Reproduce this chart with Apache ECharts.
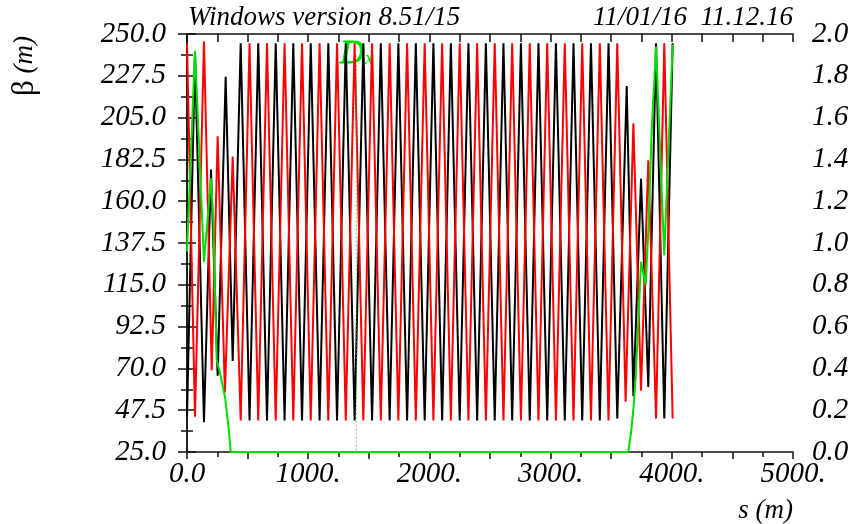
<!DOCTYPE html>
<html>
<head>
<meta charset="utf-8">
<script src="https://cdn.jsdelivr.net/npm/echarts@6/dist/echarts.min.js"></script>
<style>
html,body{margin:0;padding:0;background:#fff;}
#c{width:857px;height:524px;}
</style>
</head>
<body>
<div id="c"></div>
<script>
// ---- data ----
// horizontal beta function (black): positions s (m) and values (m)
const betxS = [0, 66, 140, 198, 253, 319, 377,
  443, 516, 588, 660, 732, 805, 877, 949, 1021, 1094, 1166, 1238, 1310, 1383, 1455, 1527, 1599, 1672, 1744, 1816, 1888, 1961,
  2033, 2105, 2177, 2250, 2322, 2394, 2466, 2539, 2611, 2683, 2755, 2828, 2900, 2972, 3044, 3117, 3189, 3261, 3333, 3406, 3478,
  3550, 3628, 3683, 3746, 3806, 3870, 3938, 4007];
const betxV = [44, 240, 41, 177, 66, 227, 74,
  245, 42, 245, 42, 245, 42, 245, 42, 245, 42, 245, 42, 245, 42, 245, 42, 245, 42, 245, 42, 245, 42,
  245, 42, 245, 42, 245, 42, 245, 42, 245, 42, 245, 42, 245, 42, 245, 42, 245, 42, 245, 42, 245,
  43, 222, 55, 172, 60, 245, 43, 245];
// vertical beta function (red)
const betyS = [0, 66, 140, 204, 253, 313, 377,
  443, 516, 588, 660, 732, 805, 877, 949, 1021, 1094, 1166, 1238, 1310, 1383, 1455, 1527, 1599, 1672, 1744, 1816, 1888, 1961,
  2033, 2105, 2177, 2250, 2322, 2394, 2466, 2539, 2611, 2683, 2755, 2828, 2900, 2972, 3044, 3117, 3189, 3261, 3333, 3406, 3478,
  3550, 3619, 3683, 3746, 3806, 3870, 3938, 4007];
const betyV = [245, 44, 246, 69, 195, 57, 184,
  42, 245, 42, 245, 42, 245, 42, 245, 42, 245, 42, 245, 42, 245, 42, 245, 42, 245, 42, 245, 42, 245,
  42, 245, 42, 245, 42, 245, 42, 245, 42, 245, 42, 245, 42, 245, 42, 245, 42, 245, 42, 245, 42,
  245, 52, 202, 58, 182, 43, 245, 43];
// horizontal dispersion Dx (green, right axis)
const dxS = [0, 66, 140, 198, 217, 245, 272, 314, 341, 361, 3641, 3665, 3687, 3704, 3724, 3746, 3785, 3806, 3834, 3870, 3938, 4007];
const dxV = [0.96, 1.92, 0.91, 1.31, 1.11, 0.44, 0.38, 0.26, 0.13, 0.0, 0.0, 0.10, 0.23, 0.38, 0.63, 0.91, 0.80, 1.06, 1.54, 1.94, 0.94, 1.95];
// Dx label marker position
const dxMarkS = 1400;
const dxMarkTop = 1.87;
// axes
const sRange = [0, 5000];
const betaRange = [25, 250];
const dRange = [0, 2];
const titleLeft = 'Windows version 8.51/15';
const titleRight = '11/01/16  11.12.16';

// ---- chart ----
const FONT = "'Liberation Serif', 'DejaVu Serif', serif";
const pairs = (xs, ys) => xs.map((x, i) => [x, ys[i]]);
const lblStyle = {fontFamily: FONT, fontStyle: 'italic', fontSize: 29, color: '#000'};
const axLine = {show: true, lineStyle: {color: '#111', width: 1.5}};
const tickLine = {color: '#111', width: 1.5};
const GREEN = '#00dd00';

const chart = echarts.init(document.getElementById('c'), null, {renderer: 'canvas'});
chart.setOption({
  animation: false,
  backgroundColor: '#fff',
  grid: {left: 187, right: 64, top: 34, bottom: 72, containLabel: false},
  xAxis: [{
    type: 'value', position: 'bottom', min: sRange[0], max: sRange[1], interval: 500,
    axisLine: axLine,
    axisTick: {show: true, inside: false, length: 7, lineStyle: tickLine},
    minorTick: {show: true, splitNumber: 2, length: 5, lineStyle: tickLine},
    splitLine: {show: false},
    axisLabel: Object.assign({}, lblStyle, {margin: 8, interval: 0,
      formatter: v => v === 0 ? '0.0' : (v % 1000 === 0 ? v + '.' : '')})
  }, {
    type: 'value', position: 'top', min: sRange[0], max: sRange[1], interval: 250,
    axisLine: axLine,
    axisTick: {show: true, inside: true, length: 8, lineStyle: tickLine},
    axisLabel: {show: false}, splitLine: {show: false}
  }],
  yAxis: [{
    type: 'value', position: 'left', min: betaRange[0], max: betaRange[1], interval: 22.5,
    axisLine: axLine,
    axisTick: {show: true, inside: false, length: 9, lineStyle: tickLine},
    minorTick: {show: true, splitNumber: 2, length: 6, lineStyle: tickLine},
    splitLine: {show: false},
    axisLabel: Object.assign({}, lblStyle, {margin: 21, formatter: v => v.toFixed(1)})
  }, {
    type: 'value', position: 'right', min: dRange[0], max: dRange[1], interval: 0.2,
    axisLine: axLine,
    axisTick: {show: true, inside: false, length: 9, lineStyle: tickLine},
    minorTick: {show: true, splitNumber: 2, length: 6, lineStyle: tickLine},
    splitLine: {show: false},
    axisLabel: Object.assign({}, lblStyle, {margin: 19, formatter: v => v.toFixed(1)})
  }],
  series: [{
    name: 'betx', type: 'line', xAxisIndex: 0, yAxisIndex: 0, data: pairs(betxS, betxV),
    showSymbol: false, symbol: 'none', lineStyle: {color: '#000', width: 2}, z: 3
  }, {
    name: 'bety', type: 'line', xAxisIndex: 0, yAxisIndex: 0, data: pairs(betyS, betyV),
    showSymbol: false, symbol: 'none', lineStyle: {color: '#ff0000', width: 2}, z: 4
  }, {
    name: 'dx', type: 'line', xAxisIndex: 0, yAxisIndex: 1, data: pairs(dxS, dxV),
    showSymbol: false, symbol: 'none', lineStyle: {color: GREEN, width: 2}, z: 5,
    markLine: {
      silent: true, symbol: 'none', label: {show: false},
      lineStyle: {color: GREEN, type: [1, 3], width: 1.2},
      data: [[{coord: [dxMarkS, dxMarkTop]}, {coord: [dxMarkS, 0]}]]
    }
  }],
  graphic: [
    {type: 'text', style: {x: 188, y: 18, text: titleLeft, font: 'italic 27px ' + FONT, fill: '#000', textAlign: 'left', textVerticalAlign: 'middle'}},
    {type: 'text', style: {x: 793, y: 18, text: titleRight, font: 'italic 27px ' + FONT, fill: '#000', textAlign: 'right', textVerticalAlign: 'middle'}},
    {type: 'text', style: {x: 340, y: 54, text: 'D', font: 'italic 34px ' + FONT, fill: GREEN, stroke: GREEN, lineWidth: 0.8, textAlign: 'left', textVerticalAlign: 'middle'}},
    {type: 'text', style: {x: 365, y: 59, text: 'x', font: 'italic 19px ' + FONT, fill: GREEN, textAlign: 'left', textVerticalAlign: 'middle'}},
    {type: 'text', x: 25, y: 66, rotation: Math.PI / 2,
      style: {x: 0, y: 0, text: '{b|β}  {m|(m)}', textAlign: 'center', textVerticalAlign: 'middle',
        rich: {b: {font: '31px ' + FONT, fill: '#000'}, m: {font: 'italic 27px ' + FONT, fill: '#000'}}}},
    {type: 'text', style: {x: 793, y: 511, text: 's (m)', font: 'italic 27px ' + FONT, fill: '#000', textAlign: 'right', textVerticalAlign: 'middle'}}
  ]
});
</script>
</body>
</html>
